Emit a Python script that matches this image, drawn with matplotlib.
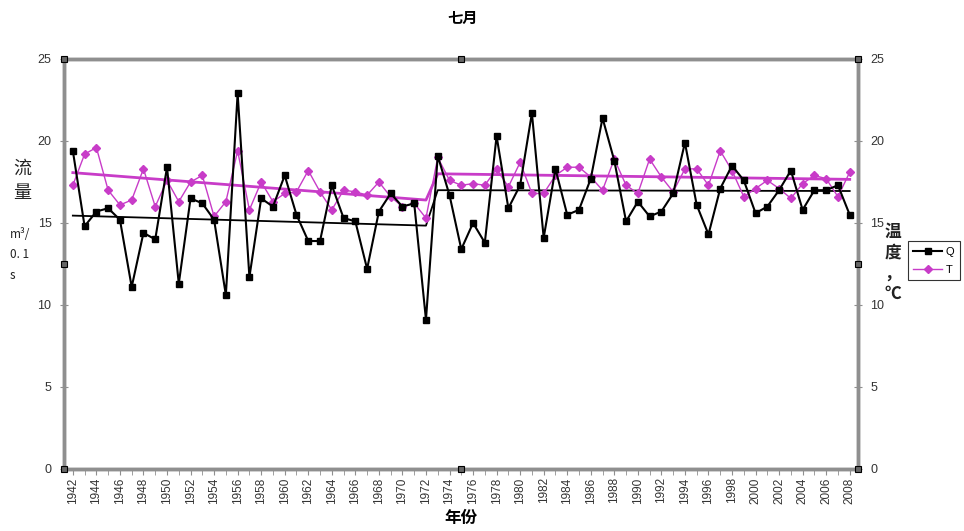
import numpy as np
import matplotlib
matplotlib.use('Agg')
import matplotlib.pyplot as plt

CJK = ['Noto Sans CJK SC', 'DejaVu Sans']
plt.rcParams['font.family'] = ['Liberation Sans', 'DejaVu Sans']

years = np.arange(1942, 2009)

# July discharge (Q) and temperature (T)
flow = [19.4, 14.8, 15.7, 15.9, 15.2, 11.1, 14.4, 14.0, 18.4, 11.3,
        16.5, 16.2, 15.2, 10.6, 22.9, 11.7, 16.5, 16.0, 17.9, 15.5,
        13.9, 13.9, 17.3, 15.3, 15.1, 12.2, 15.7, 16.8, 16.0, 16.2,
        9.1, 19.1, 16.7, 13.4, 15.0, 13.8, 20.3, 15.9, 17.3, 21.7,
        14.1, 18.3, 15.5, 15.8, 17.7, 21.4, 18.8, 15.1, 16.3, 15.4,
        15.7, 16.8, 19.9, 16.1, 14.3, 17.1, 18.5, 17.6, 15.6, 16.0,
        17.0, 18.2, 15.8, 17.0, 17.0, 17.3, 15.5]
temp = [17.3, 19.2, 19.6, 17.0, 16.1, 16.4, 18.3, 16.0, 17.6, 16.3,
        17.5, 17.9, 15.4, 16.3, 19.4, 15.8, 17.5, 16.3, 16.8, 16.9,
        18.2, 16.9, 15.8, 17.0, 16.9, 16.7, 17.5, 16.6, 16.0, 16.2,
        15.3, 19.0, 17.6, 17.3, 17.4, 17.3, 18.3, 17.2, 18.7, 16.8,
        16.8, 17.9, 18.4, 18.4, 17.8, 17.0, 18.9, 17.3, 16.8, 18.9,
        17.8, 16.9, 18.3, 18.3, 17.3, 19.4, 18.2, 16.6, 17.1, 17.6,
        17.1, 16.5, 17.4, 17.9, 17.7, 16.6, 18.1]

# piecewise trend segments: (first year, last year, start value, end value)
flow_trend = [(1942, 1972, 15.45, 14.84), (1973, 2008, 17.0, 16.95)]
temp_trend = [(1942, 1972, 18.07, 16.4), (1973, 2008, 18.0, 17.66)]


def trend_line(segments):
    vals = []
    for y0, y1, v0, v1 in segments:
        vals.extend(np.linspace(v0, v1, y1 - y0 + 1))
    return np.array(vals)


MAGENTA = '#C83CC8'
GREY = '#8f8f8f'

fig = plt.figure(figsize=(9.64, 5.31), dpi=100)
ax = fig.add_axes([0.0664, 0.1168, 0.8236, 0.7721])

ax.plot(years, trend_line(flow_trend), color='black', lw=1.3, zorder=2)
ax.plot(years, trend_line(temp_trend), color=MAGENTA, lw=2.0, zorder=2)
lq, = ax.plot(years, flow, color='black', lw=1.5, marker='s', ms=4.5,
              label='Q', zorder=4)
lt, = ax.plot(years, temp, color=MAGENTA, lw=1.0, marker='D', ms=3.8,
              label='T', zorder=3)

ax.set_xlim(1941.25, 2008.7)
ax.set_ylim(0, 25)
ax.set_yticks(np.arange(0, 26, 5))
ax.set_xticks(years[::2])
ax.set_xticks(years, minor=True)
ax.set_xticklabels([str(y) for y in years[::2]], rotation=90)
ax.tick_params(axis='x', which='both', direction='out', length=4,
               color=GREY, labelsize=8.5, labelcolor='#333333', pad=2)
ax.tick_params(axis='y', direction='inout', length=6, color=GREY,
               labelsize=9, labelcolor='#333333', pad=6)

ax2 = ax.twinx()
ax2.set_ylim(0, 25)
ax2.set_yticks(np.arange(0, 26, 5))
ax2.tick_params(axis='y', direction='inout', length=6, color=GREY,
                labelsize=9, labelcolor='#333333', pad=6)

for a in (ax, ax2):
    for sp in a.spines.values():
        sp.set_color(GREY)
        sp.set_linewidth(2.5)

# little square handles around the plot frame
hx = [0, 0.5, 1, 0, 1, 0, 0.5, 1]
hy = [1, 1, 1, 0.5, 0.5, 0, 0, 0]
ax2.plot(hx, hy, ls='none', marker='s', ms=4, mfc='#666666', mec='black',
         mew=0.8, transform=ax2.transAxes, clip_on=False, zorder=10)

fig.text(0.480, 0.966, '七月', ha='center', va='center', fontsize=11,
         fontweight='bold', family=CJK)
fig.text(0.478, 0.024, '年份', ha='center', va='center', fontsize=12,
         fontweight='bold', family=CJK)
fig.text(0.023, 0.659, '流\n量', ha='center', va='center', fontsize=13,
         linespacing=1.45, family=CJK, color='#222222')
fig.text(0.010, 0.52, 'm³/\n0. 1\ns', ha='left', va='center', fontsize=8.5,
         linespacing=1.75, family=CJK, color='#222222')
fig.text(0.926, 0.505, '温\n度\n，\n℃', ha='center', va='center', fontsize=12,
         linespacing=1.2, fontweight='bold', family=CJK, color='#222222')

leg = fig.legend(handles=[lq, lt], loc='upper left',
                 bbox_to_anchor=(0.936, 0.556), fontsize=8,
                 frameon=True, fancybox=False, handlelength=2.6,
                 borderpad=0.5, labelspacing=0.7, handletextpad=0.3)
leg.get_frame().set_edgecolor('black')
leg.get_frame().set_linewidth(0.8)

fig.savefig('out.png', dpi=100)
